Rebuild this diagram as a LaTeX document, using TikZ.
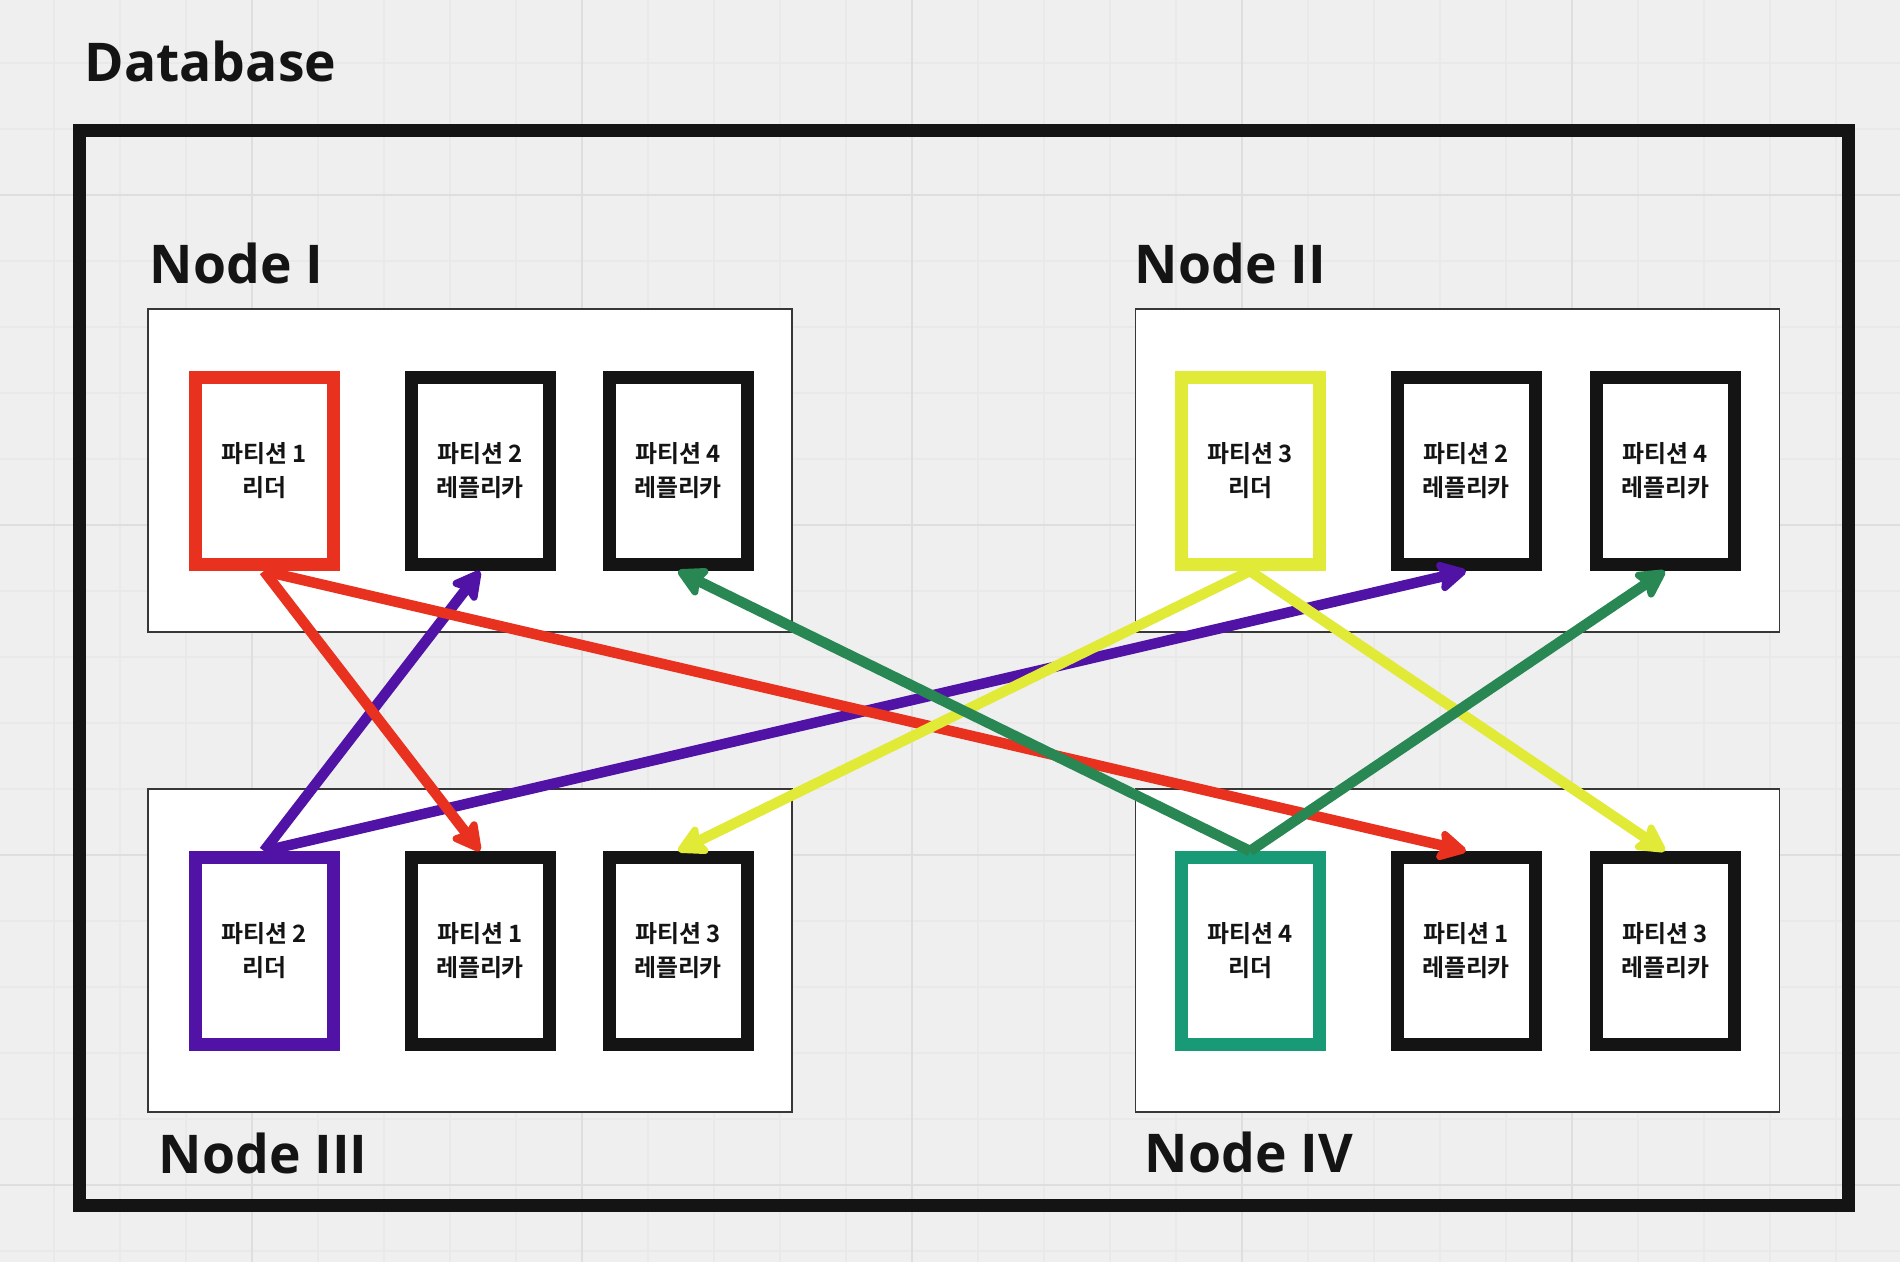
\documentclass[tikz,border=0pt]{standalone}
\usepackage{fontspec}
\setmainfont{Open Sans}
\newfontfamily\kr{Noto Sans CJK KR}[UprightFont=* Bold]
\usetikzlibrary{arrows.meta}

\definecolor{canvas}{HTML}{EFEFEF}
\definecolor{gridminor}{HTML}{E9E9E9}
\definecolor{gridmajor}{HTML}{DEDEDE}
\definecolor{ink}{HTML}{141414}
\definecolor{leadred}{HTML}{E9311F}
\definecolor{leadviolet}{HTML}{5113A6}
\definecolor{leadlime}{HTML}{E0EA37}
\definecolor{leadteal}{HTML}{189A77}
\definecolor{copygreen}{HTML}{288752}

\tikzset{
  title/.style={font=\bfseries\fontsize{15.2}{18}\selectfont, text=ink, anchor=base west, inner sep=0pt},
  server/.style={draw=ink!85, line width=0.15mm, fill=white, minimum width=64.4mm, minimum height=32.3mm, inner sep=0pt},
  part/.style={draw=ink, line width=1.3mm, fill=white, minimum width=13.8mm, minimum height=18.7mm,
    inner sep=0pt, align=center, text=ink, font=\kr\fontsize{6.8}{9.7}\selectfont},
  repl/.style={-{Stealth[length=3.4mm, width=3.6mm, inset=0.6mm, round]}, line width=1.05mm}
}

\begin{document}
\begin{tikzpicture}[x=0.1mm, y=-0.1mm]
    \useasboundingbox (0,0) rectangle (1900,1262);
    \fill[canvas] (0,0) rectangle (1900,1262);
    % board grid
    \foreach \x in {54,120,...,1900} \draw[gridminor, line width=0.15mm] (\x,0) -- (\x,1262);
    \foreach \y in {63,129,...,1262} \draw[gridminor, line width=0.15mm] (0,\y) -- (1900,\y);
    \foreach \x in {252,582,...,1900} \draw[gridmajor, line width=0.2mm] (\x,0) -- (\x,1262);
    \foreach \y in {195,525,...,1262} \draw[gridmajor, line width=0.2mm] (0,\y) -- (1900,\y);

    \node[title] (dbtitle) at (84,81) {Database};
    \draw[ink, line width=1.3mm] (79.5,130.5) rectangle (1848.5,1205.5);

    % servers
    \node[server] (n1) at (470,470.5) {};
    \node[server] (n2) at (1457.5,470.5) {};
    \node[server] (n3) at (470,950.5) {};
    \node[server] (n4) at (1457.5,950.5) {};
    \node[title] at (149,283) {Node I};
    \node[title] at (1134,283) {Node II};
    \node[title] at (158,1173) {Node III};
    \node[title] at (1144,1172) {Node IV};

    % partitions
    \node[part, draw=leadred] (a1) at (264,471) {파티션 1\\리더};
    \node[part] (a2) at (480,471) {파티션 2\\레플리카};
    \node[part] (a4) at (678,471) {파티션 4\\레플리카};
    \node[part, draw=leadlime] (b3) at (1250,471) {파티션 3\\리더};
    \node[part] (b2) at (1466,471) {파티션 2\\레플리카};
    \node[part] (b4) at (1665,471) {파티션 4\\레플리카};
    \node[part, draw=leadviolet] (c2) at (264,951) {파티션 2\\리더};
    \node[part] (c1) at (480,951) {파티션 1\\레플리카};
    \node[part] (c3) at (678,951) {파티션 3\\레플리카};
    \node[part, draw=leadteal] (d4) at (1250,951) {파티션 4\\리더};
    \node[part] (d1) at (1466,951) {파티션 1\\레플리카};
    \node[part] (d3) at (1665,951) {파티션 3\\레플리카};

    % replication
    \draw[repl, leadviolet] (c2.north) -- (a2.south);
    \draw[repl, leadviolet] (c2.north) -- (b2.south);
    \draw[repl, leadred] (a1.south) -- (c1.north);
    \draw[repl, leadred] (a1.south) -- (d1.north);
    \draw[repl, leadlime] (b3.south) -- (c3.north);
    \draw[repl, leadlime] (b3.south) -- (d3.north);
    \draw[repl, copygreen] (d4.north) -- (a4.south);
    \draw[repl, copygreen] (d4.north) -- (b4.south);
\end{tikzpicture}
\end{document}
